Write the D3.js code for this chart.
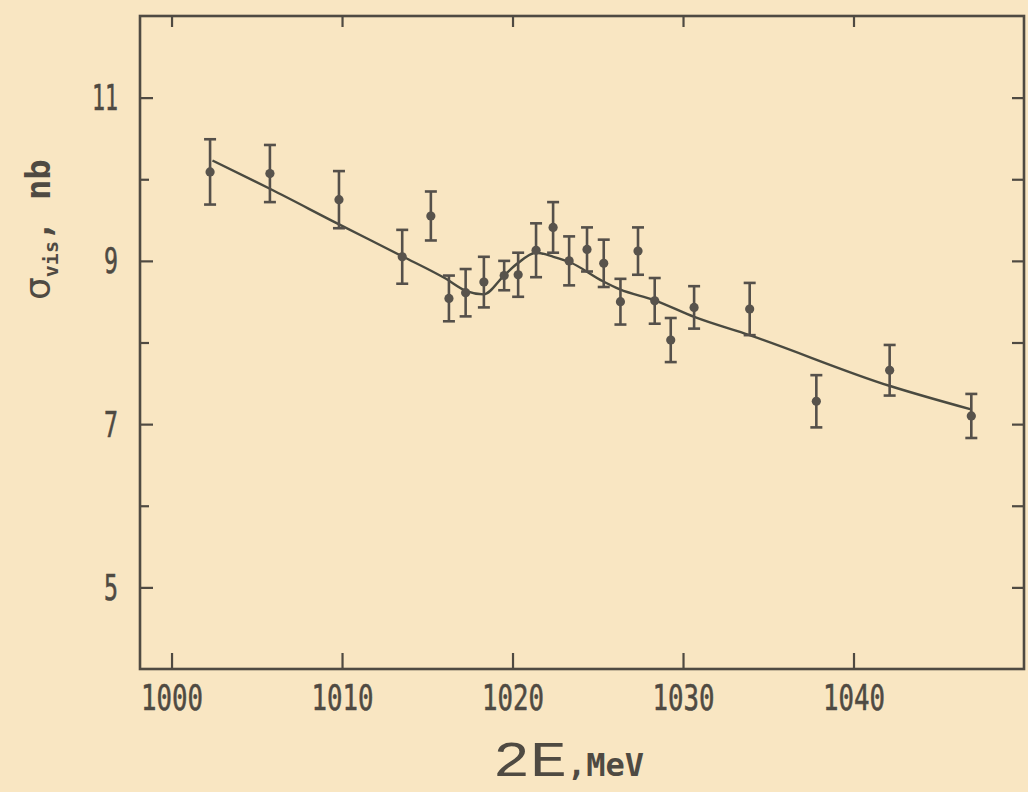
<!DOCTYPE html>
<html>
<head>
<meta charset="utf-8">
<script src="https://cdn.jsdelivr.net/npm/d3@7"></script>
<style>
  html, body { margin: 0; padding: 0; background: #f9e6c2; }
  svg { display: block; }
</style>
</head>
<body>
<svg id="chart" width="1028" height="792"></svg>
<script>
// ---- data ----
const energy = [1002.26, 1005.77, 1009.82, 1013.53, 1015.21, 1016.27, 1017.25, 1018.32,
                1019.51, 1020.33, 1021.38, 1022.38, 1023.32, 1024.37, 1025.35, 1026.33,
                1027.36, 1028.34, 1029.28, 1030.65, 1033.91, 1037.82, 1042.12, 1046.91];
const sigma  = [10.09, 10.07, 9.75, 9.05, 9.55, 8.54, 8.61, 8.74,
                8.82, 8.83, 9.13, 9.41, 9.00, 9.14, 8.97, 8.50,
                9.12, 8.51, 8.03, 8.43, 8.41, 7.28, 7.66, 7.10];
const sigmaErr = [0.40, 0.35, 0.35, 0.33, 0.30, 0.28, 0.29, 0.31,
                  0.18, 0.27, 0.33, 0.31, 0.30, 0.27, 0.29, 0.28,
                  0.29, 0.28, 0.27, 0.26, 0.32, 0.32, 0.31, 0.27];
const fitE = [1002.4, 1005.8, 1009.8, 1013.5, 1016.1, 1017.3, 1018.3, 1019.5, 1020.3,
              1021.4, 1022.4, 1023.4, 1025.3, 1026.3, 1028.3, 1030.7, 1033.9, 1042.1, 1046.9];
const fitS = [10.23, 9.88, 9.45, 9.06, 8.78, 8.63, 8.59, 8.82, 8.97,
              9.10, 9.05, 8.98, 8.75, 8.65, 8.52, 8.31, 8.09, 7.47, 7.18];
const xTicks = [1000, 1010, 1020, 1030, 1040];
const yMajor = [5, 7, 9, 11];
const yMinor = [6, 8, 10];
const xTitleMain = "2E";
const xTitleUnit = ",MeV";

// ---- layout ----
const ink = "#4f4a42";
const svg = d3.select("#chart");
const x = d3.scaleLinear().domain([998.15, 1050]).range([140, 1024]);
const y = d3.scaleLinear().domain([4, 12]).range([669, 16]);

const g = svg.append("g");

// frame
g.append("rect")
  .attr("x", x.range()[0]).attr("y", y.range()[1])
  .attr("width", x.range()[1] - x.range()[0])
  .attr("height", y.range()[0] - y.range()[1])
  .attr("fill", "none").attr("stroke", ink).attr("stroke-width", 2.6);

// bottom axis
const axB = g.append("g").attr("transform", `translate(0,${y.range()[0]})`)
  .call(d3.axisBottom(x).tickValues(xTicks).tickSizeInner(-16).tickSizeOuter(0).tickPadding(0).tickFormat(d3.format("d")));
axB.select(".domain").remove();
axB.selectAll(".tick line").attr("stroke", ink).attr("stroke-width", 2.2);
axB.selectAll(".tick text").remove();
axB.selectAll(".tick").append("text")
  .attr("y", 41).attr("text-anchor", "middle")
  .attr("font-family", "DejaVu Sans Mono").attr("font-size", 36)
  .attr("textLength", 62).attr("lengthAdjust", "spacingAndGlyphs")
  .attr("stroke", ink).attr("stroke-width", 0.6)
  .attr("fill", ink).text(d => d);

// top axis ticks
const axT = g.append("g").attr("transform", `translate(0,${y.range()[1]})`)
  .call(d3.axisTop(x).tickValues(xTicks).tickSizeInner(-11).tickSizeOuter(0).tickFormat(""));
axT.select(".domain").remove();
axT.selectAll(".tick line").attr("stroke", ink).attr("stroke-width", 2.2);

// left axis major
const axL = g.append("g").attr("transform", `translate(${x.range()[0]},0)`)
  .call(d3.axisLeft(y).tickValues(yMajor).tickSizeInner(-13).tickSizeOuter(0).tickFormat(""));
axL.select(".domain").remove();
axL.selectAll(".tick line").attr("stroke", ink).attr("stroke-width", 2.2);
axL.selectAll(".tick").append("text")
  .attr("x", -22).attr("y", 12).attr("text-anchor", "end")
  .attr("font-family", "DejaVu Sans Mono").attr("font-size", 35)
  .attr("stroke", ink).attr("stroke-width", 0.6)
  .attr("fill", ink)
  .each(function(d) {
    const s = String(d);
    d3.select(this).attr("textLength", s.length === 2 ? 26 : 14).attr("lengthAdjust", "spacingAndGlyphs");
  })
  .text(d => d);

// left axis minor
const axLm = g.append("g").attr("transform", `translate(${x.range()[0]},0)`)
  .call(d3.axisLeft(y).tickValues(yMinor).tickSizeInner(-9).tickSizeOuter(0).tickFormat(""));
axLm.select(".domain").remove();
axLm.selectAll(".tick line").attr("stroke", ink).attr("stroke-width", 2.2);

// right axis ticks
const axR = g.append("g").attr("transform", `translate(${x.range()[1]},0)`)
  .call(d3.axisRight(y).tickValues(yMajor.concat(yMinor)).tickSizeInner(-12).tickSizeOuter(0).tickFormat(""));
axR.select(".domain").remove();
axR.selectAll(".tick line").attr("stroke", ink).attr("stroke-width", 2.2);

// fit curve
const pts = fitE.map((e, i) => [e, fitS[i]]);
g.append("path")
  .attr("d", d3.line().x(d => x(d[0])).y(d => y(d[1])).curve(d3.curveMonotoneX)(pts))
  .attr("fill", "none").attr("stroke", "#4a4a40").attr("stroke-width", 2.4);

// data points with error bars
const data = energy.map((e, i) => ({ e, s: sigma[i], err: sigmaErr[i] }));
const pt = g.append("g").selectAll("g").data(data).join("g");
pt.append("line")
  .attr("x1", d => x(d.e)).attr("x2", d => x(d.e))
  .attr("y1", d => y(d.s + d.err)).attr("y2", d => y(d.s - d.err))
  .attr("stroke", "#55504a").attr("stroke-width", 2.6);
pt.append("line")
  .attr("x1", d => x(d.e) - 6).attr("x2", d => x(d.e) + 6)
  .attr("y1", d => y(d.s + d.err)).attr("y2", d => y(d.s + d.err))
  .attr("stroke", "#55504a").attr("stroke-width", 2.6);
pt.append("line")
  .attr("x1", d => x(d.e) - 6).attr("x2", d => x(d.e) + 6)
  .attr("y1", d => y(d.s - d.err)).attr("y2", d => y(d.s - d.err))
  .attr("stroke", "#55504a").attr("stroke-width", 2.6);
pt.append("circle")
  .attr("cx", d => x(d.e)).attr("cy", d => y(d.s)).attr("r", 4.6)
  .attr("fill", "#58534c");

// x axis title
const xt = svg.append("text").attr("x", 493).attr("y", 776)
  .attr("fill", ink);
xt.append("tspan")
  .attr("font-family", "Liberation Mono").attr("font-size", 50)
  .attr("textLength", 74).attr("lengthAdjust", "spacingAndGlyphs")
  .text(xTitleMain);
xt.append("tspan")
  .attr("font-family", "DejaVu Sans Mono").attr("font-weight", "bold").attr("font-size", 32)
  .attr("dx", 0)
  .text(xTitleUnit);

// y axis title
const yt = svg.append("text")
  .attr("transform", "translate(50,300) rotate(-90)")
  .attr("text-anchor", "start")
  .attr("fill", ink);
yt.append("tspan")
  .attr("font-family", "DejaVu Sans").attr("font-size", 36).text("σ");
yt.append("tspan")
  .attr("font-family", "DejaVu Sans Mono").attr("font-weight", "bold").attr("font-size", 20)
  .attr("dy", 8).text("vis");
yt.append("tspan")
  .attr("font-family", "DejaVu Sans Mono").attr("font-weight", "bold").attr("font-size", 34)
  .attr("dy", -8).text(", nb");
</script>
</body>
</html>
